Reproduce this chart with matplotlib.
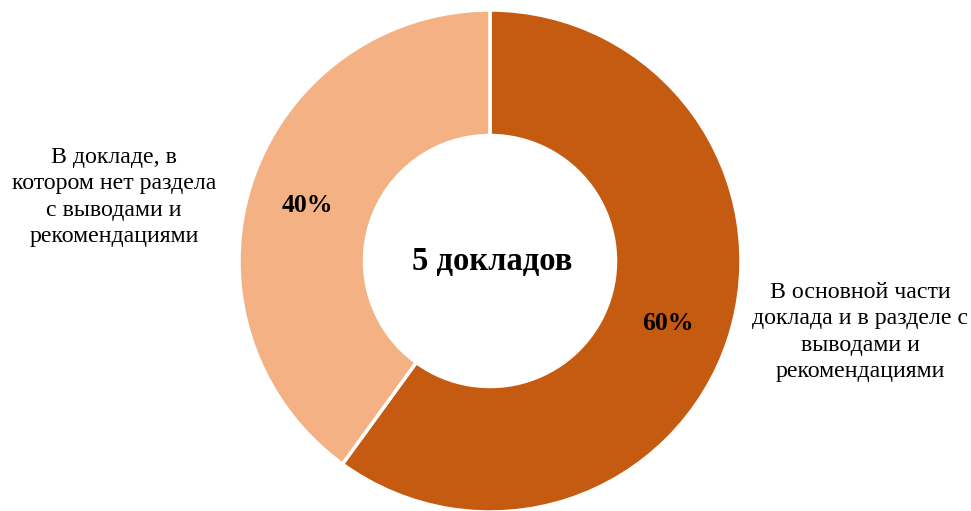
import matplotlib
matplotlib.use("Agg")
import matplotlib.pyplot as plt

categories = ["В основной части\nдоклада и в разделе с\nвыводами и\nрекомендациями",
              "В докладе, в\nкотором нет раздела\nс выводами и\nрекомендациями"]
values = [60, 40]
pct_labels = ["60%", "40%"]
colors = ["#C55A11", "#F4B183"]
center_text = "5 докладов"

plt.rcParams['font.family'] = ['Liberation Serif', 'DejaVu Serif']

W, H = 971, 511
cx, cy, R = 490, 261, 251
fig = plt.figure(figsize=(W/100, H/100), dpi=100)
ax = fig.add_axes([0, 0, 1, 1])

wedges, _ = ax.pie(values, colors=colors, startangle=90, counterclock=False,
                   radius=1.0, wedgeprops=dict(width=0.5, edgecolor='white', linewidth=2.5))
ax.set_xlim(-cx/R, (W-cx)/R)
ax.set_ylim(-(H-cy)/R, cy/R)
ax.set_aspect('auto')
ax.axis('off')

pct_pos = [((668-cx)/R, (cy-324)/R), ((307-cx)/R, (cy-206)/R)]
for (x, y), t in zip(pct_pos, pct_labels):
    ax.text(x, y, t, ha='center', va='center', fontsize=18.5, fontweight='bold', color='black')

ax.text(2/R, 0, center_text, ha='center', va='center', fontsize=23.5, fontweight='bold')

cat_pos = [((860-cx)/R, (cy-332)/R), ((114-cx)/R, (cy-197)/R)]
for (x, y), t in zip(cat_pos, categories):
    ax.text(x, y, t, ha='center', va='center', fontsize=17.2, linespacing=1.33, color='black')

fig.savefig("out.png", dpi=100)
